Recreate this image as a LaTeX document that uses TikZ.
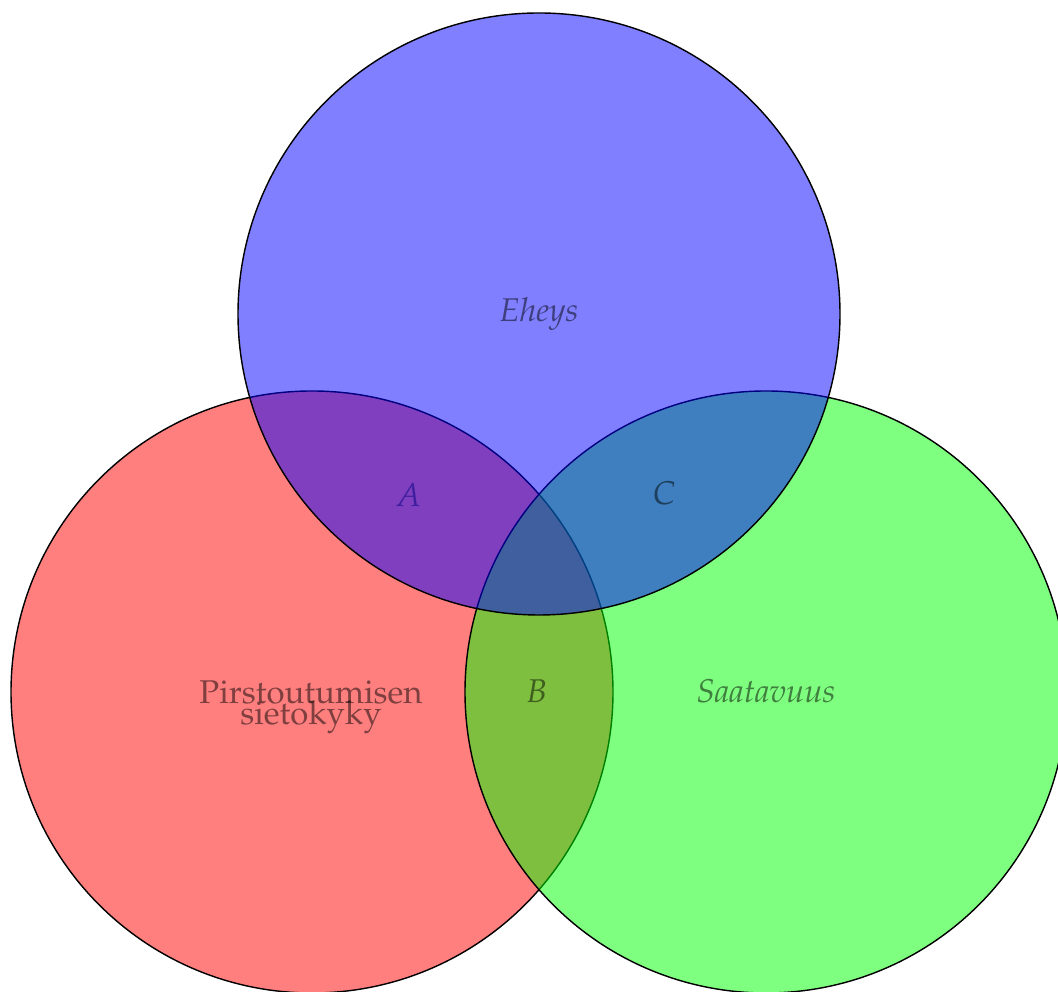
\documentclass[tikz,border=0pt]{standalone}
\usepackage[T1]{fontenc}
\usepackage{mathpazo}
\begin{document}
\begin{tikzpicture}[x=0.0099305cm,y=-0.0099305cm,
  venn/.style={draw=black,line width=0.4pt,fill opacity=0.5},
  lbl/.style={text=black,text opacity=0.5,inner sep=0pt,anchor=base,font=\fontsize{9.3}{11}\selectfont}]
\useasboundingbox (0,0) rectangle (1058,992);
\fill[white] (0,0) rectangle (1058,992);
\coordinate (cr) at (312,692);
\coordinate (cg) at (766,692);
\coordinate (cb) at (539,314);
\draw[venn,fill=red] (cr) circle[radius=301];
\draw[venn,fill=green] (cg) circle[radius=301];
\node[lbl] (a) at (409,507) {\itshape A};
\draw[venn,fill=blue] (cb) circle[radius=301];
\node[lbl] (eheys) at (539,322) {\itshape Eheys};
\node[lbl] (c) at (664,505) {\itshape C};
\node[lbl] (b) at (537,703) {\itshape B};
\node[lbl] (saat) at (766,703) {\itshape Saatavuus};
\node[lbl] (pir1) at (311,704) {Pirstoutumisen};
\node[lbl] (pir2) at (311,725) {sietokyky};
\end{tikzpicture}
\end{document}
